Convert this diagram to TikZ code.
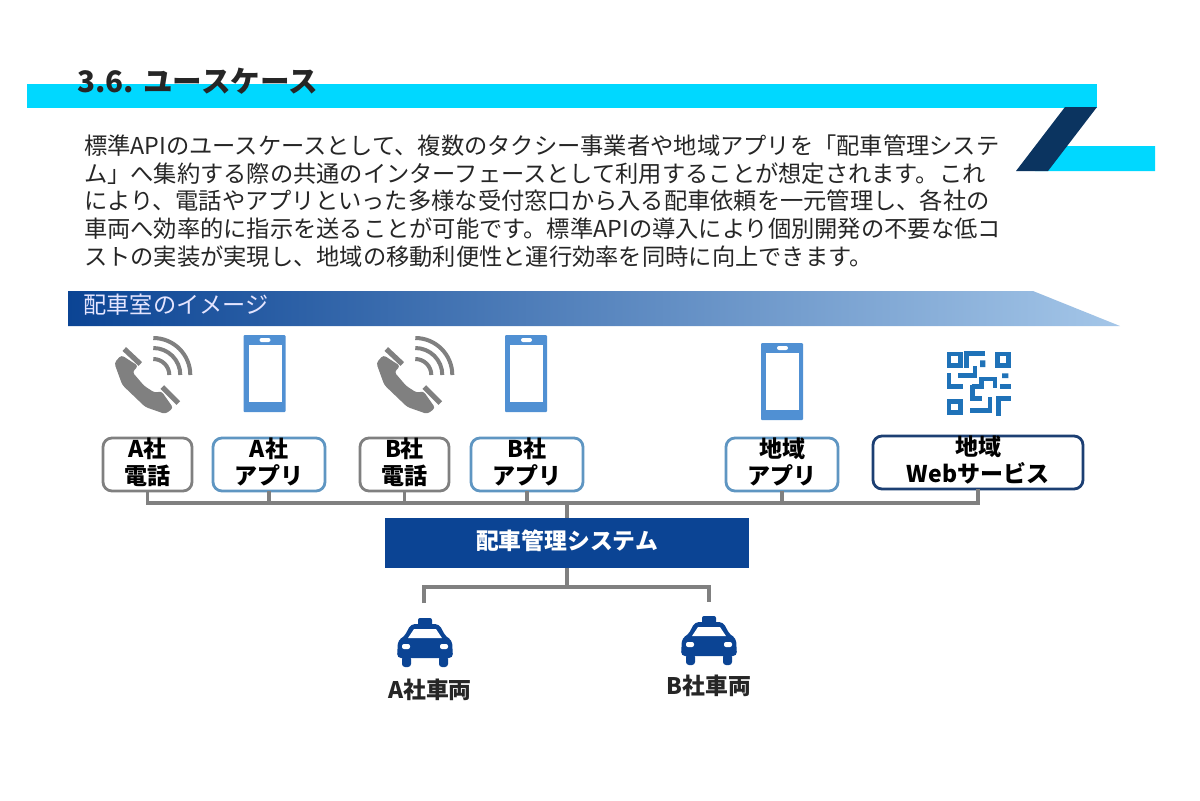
\documentclass[tikz,border=0pt]{standalone}
\usepackage{fontspec}
\setmainfont{Noto Sans CJK JP}
\usepackage{tikz}
\usetikzlibrary{calc}
\definecolor{barcyan}{HTML}{00D8FF}
\definecolor{barnavy}{HTML}{0B3460}
\definecolor{sysblue}{HTML}{0B4494}
\definecolor{midblue}{HTML}{1D5CA5}
\definecolor{paleblue}{HTML}{A4C6E8}
\definecolor{iconblue}{HTML}{5090D3}
\definecolor{qrblue}{HTML}{1F72B8}
\definecolor{edgeblue}{HTML}{5F96C2}
\definecolor{edgenavy}{HTML}{1C3F73}
\definecolor{linkgray}{HTML}{808080}
\definecolor{inkgray}{HTML}{262626}
\newcommand{\uptext}[1]{\raisebox{1.2pt}[\height][\depth]{#1}}
\tikzset{
  bodyline/.style={anchor=base west,inner sep=0pt,outer sep=0pt,text=inkgray,font=\fontsize{11.63}{14}\selectfont},
  tagbox/.style={draw=linkgray,line width=1.4pt,rounded corners=4.5pt,fill=white,inner sep=0pt,outer sep=0pt,
    minimum width=44.5pt,minimum height=26.5pt,align=center,
    font=\fontsize{11.5}{13.6}\selectfont\bfseries},
  appbox/.style={tagbox,draw=edgeblue,minimum width=56pt},
  webbox/.style={tagbox,draw=edgenavy,minimum width=105pt},
  carlabel/.style={inner sep=0pt,outer sep=0pt,font=\fontsize{11.4}{13}\selectfont\bfseries,text=black!85},
  link/.style={draw=linkgray,line width=1.6pt},
  pics/phone/.style={code={
    \fill[iconblue,rounded corners=0.5pt] (-21,0) rectangle (21,77);
    \fill[white] (-16,10) rectangle (17,67);
    \fill[white,rounded corners=1pt] (-5,3) rectangle (6,7);
  }},
  pics/handset/.style={code={
    \fill[linkgray,rounded corners=1.5pt] (-32,-20) -- (-39,-12) -- (-31,10) -- (-8,32) -- (12,39) -- (20,33)
      -- (8,16) -- (2,18) -- (-9,11) -- (-21,-3) -- (-15,-9) -- cycle;
    \draw[linkgray,line width=2.6pt] (-29,-26) -- (-13,-11) (9,12) -- (25,28);
    \draw[linkgray,line width=2pt] (0,-16) arc[start angle=90,end angle=0,radius=8pt]
      (0,-27) arc[start angle=90,end angle=0,radius=13.5pt]
      (0,-37) arc[start angle=90,end angle=0,radius=18.5pt];
  }},
  pics/taxi/.style={code={
    \fill[sysblue,rounded corners=1pt] (-7,6) rectangle (7,14);
    \fill[sysblue,rounded corners=2pt] (-14,12) -- (14,12) -- (21,25) -- (27,28) -- (28,46) -- (-28,46) -- (-27,28) -- (-21,25) -- cycle;
    \fill[sysblue,rounded corners=1.5pt] (-23,44) rectangle (-14,55) (14,44) rectangle (23,55);
    \fill[white] (-11,17) -- (11,17) -- (17,26) -- (-17,26) -- cycle;
    \fill[white,rounded corners=1pt] (-23,32) rectangle (-15,37) (15,32) rectangle (23,37);
  }}
}
\begin{document}
\begin{tikzpicture}[x=0.5pt,y=-0.5pt]
  \useasboundingbox (0,0) rectangle (1200,800);
  \fill[white] (0,0) rectangle (1200,800);
  % header bars
  \fill[barcyan] (27,84) rectangle (1097,108);
  \fill[barcyan] (1051,146) -- (1155,146) -- (1155,171) -- (1035,171) -- cycle;
  \fill[barnavy] (1065,107) -- (1097,107) -- (1048,171) -- (1016,171) -- cycle;
  \node[anchor=base west,inner sep=0pt,text=black!85,font=\fontsize{14.8}{16}\selectfont\bfseries] (title) at (77,92) {3.6. ユースケース};
  % body text
  \node[bodyline] (line1) at (84,154) {標準APIのユースケースとして、複数のタクシー事業者や地域アプリを「配車管理システ};
  \node[bodyline] (line2) at (84,182) {ム」へ集約する際の共通のインターフェースとして利用することが想定されます。これ};
  \node[bodyline] (line3) at (84,209.5) {により、電話やアプリといった多様な受付窓口から入る配車依頼を一元管理し、各社の};
  \node[bodyline] (line4) at (84,237) {車両へ効率的に指示を送ることが可能です。標準APIの導入により個別開発の不要な低コ};
  \node[bodyline] (line5) at (84,265) {ストの実装が実現し、地域の移動利便性と運行効率を同時に向上できます。};
  % banner
  \shade[left color=sysblue,middle color=midblue,right color=paleblue] (68,291) -- (1033,291) -- (1120,326) -- (68,326) -- cycle;
  \node[anchor=base west,inner sep=0pt,text=white!90!blue,font=\fontsize{11.6}{14}\selectfont] (room) at (83,313) {配車室のイメージ};
  % icons
  \pic at (153.3,375) {handset};
  \pic at (415.3,375) {handset};
  \pic at (264.5,335) {phone};
  \pic at (526,335) {phone};
  \pic at (782,343) {phone};
  \begin{scope}[shift={(940,345)},x=0.1667pt,y=-0.1667pt]
    \draw[qrblue,line width=2.3pt]
      (27,27) rectangle (61,61) (172,27) rectangle (206,61) (27,169) rectangle (61,203)
      (80,68) -- (80,25) -- (135,25)
      (55,92) -- (105,92) -- (105,62)
      (27,85) -- (27,125) -- (68,125)
      (95,125) -- (125,125) -- (125,102) -- (165,102) -- (165,128)
      (180,125) -- (213,125)
      (97,120) -- (97,160) -- (125,160)
      (90,197) -- (150,197) -- (150,155)
      (175,212) -- (175,160) -- (213,160);
    \fill[qrblue] (120,46) rectangle (136,66) (186,85) rectangle (205,99);
  \end{scope}
  % channel boxes
  \node[tagbox] (atel) at (147.5,464.5) {\uptext{A社}\\\uptext{電話}};
  \node[appbox] (aapp) at (269,464.5) {\uptext{A社}\\\uptext{アプリ}};
  \node[tagbox] (btel) at (404.5,464.5) {\uptext{B社}\\\uptext{電話}};
  \node[appbox] (bapp) at (527,464.5) {\uptext{B社}\\\uptext{アプリ}};
  \node[appbox] (lapp) at (782,464.5) {\uptext{地域}\\\uptext{アプリ}};
  \node[webbox] (lweb) at (978,462.5) {\uptext{地域}\\\uptext{Webサービス}};
  % dispatch system
  \node[fill=sysblue,text=white,inner sep=0pt,outer sep=0pt,minimum width=182pt,minimum height=25pt,font=\fontsize{11.4}{14}\selectfont\bfseries] (sys) at (567,543) {\uptext{配車管理システム}};
  \coordinate (bus) at (567,503);
  \coordinate (fork) at (567,587);
  \coordinate (atop) at (424,603);
  \coordinate (btop) at (709,602);
  \draw[link] (atel.south) |- (bus);
  \draw[link] (aapp.south) |- (bus);
  \draw[link] (btel.south) |- (bus);
  \draw[link] (bapp.south) |- (bus);
  \draw[link] (lapp.south) |- (bus);
  \draw[link] (lweb.south) |- (bus);
  \draw[link] (bus) -- (sys.north);
  \draw[link] (sys.south) -- (fork);
  \draw[link] (atop) |- (fork) -| (btop);
  % vehicles
  \pic at (425,612) {taxi};
  \pic at (709,610) {taxi};
  \node[carlabel] (acar) at (430,690) {A社車両};
  \node[carlabel] (bcar) at (709,686) {B社車両};
\end{tikzpicture}
\end{document}
